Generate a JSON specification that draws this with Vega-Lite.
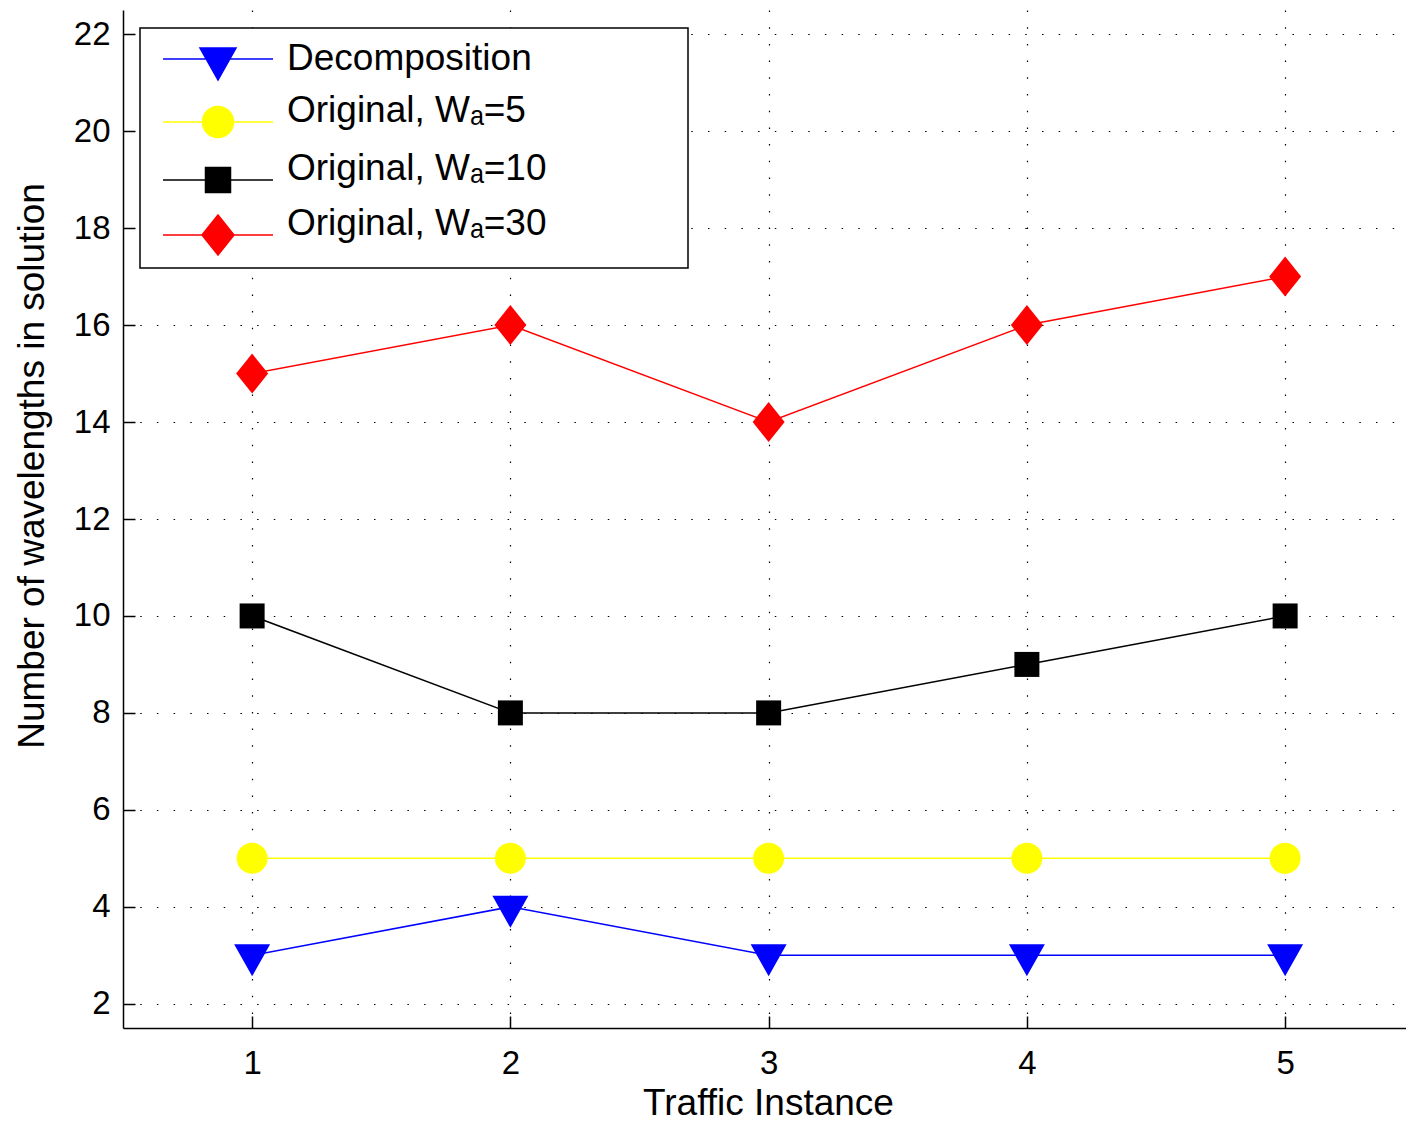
{
  "$schema": "https://vega.github.io/schema/vega-lite/v6.json",
  "width": 1283,
  "height": 1018,
  "autosize": {"type": "none"},
  "padding": {"left": 123, "top": 10, "right": 0, "bottom": 95},
  "background": "white",
  "config": {
    "view": {"stroke": null},
    "font": "Liberation Sans",
    "legend": {"strokeWidth": 1.5},
    "axis": {
      "domainColor": "black",
      "domainWidth": 1.5,
      "tickColor": "black",
      "tickWidth": 1.5,
      "tickSize": -12,
      "labelColor": "black",
      "labelFont": "Liberation Sans",
      "labelFontSize": 33,
      "titleColor": "black",
      "titleFont": "Liberation Sans",
      "titleFontSize": 37,
      "titleFontWeight": "normal",
      "grid": true,
      "gridColor": "black",
      "gridDash": [1.5, 15.2],
      "gridWidth": 1.2,
      "gridOpacity": 1
    }
  },
  "data": {
    "values": [
      {"instance": 1, "wavelengths": 3, "series": "Decomposition"},
      {"instance": 2, "wavelengths": 4, "series": "Decomposition"},
      {"instance": 3, "wavelengths": 3, "series": "Decomposition"},
      {"instance": 4, "wavelengths": 3, "series": "Decomposition"},
      {"instance": 5, "wavelengths": 3, "series": "Decomposition"},
      {"instance": 1, "wavelengths": 5, "series": "Original, Wₐ=5"},
      {"instance": 2, "wavelengths": 5, "series": "Original, Wₐ=5"},
      {"instance": 3, "wavelengths": 5, "series": "Original, Wₐ=5"},
      {"instance": 4, "wavelengths": 5, "series": "Original, Wₐ=5"},
      {"instance": 5, "wavelengths": 5, "series": "Original, Wₐ=5"},
      {"instance": 1, "wavelengths": 10, "series": "Original, Wₐ=10"},
      {"instance": 2, "wavelengths": 8, "series": "Original, Wₐ=10"},
      {"instance": 3, "wavelengths": 8, "series": "Original, Wₐ=10"},
      {"instance": 4, "wavelengths": 9, "series": "Original, Wₐ=10"},
      {"instance": 5, "wavelengths": 10, "series": "Original, Wₐ=10"},
      {"instance": 1, "wavelengths": 15, "series": "Original, Wₐ=30"},
      {"instance": 2, "wavelengths": 16, "series": "Original, Wₐ=30"},
      {"instance": 3, "wavelengths": 14, "series": "Original, Wₐ=30"},
      {"instance": 4, "wavelengths": 16, "series": "Original, Wₐ=30"},
      {"instance": 5, "wavelengths": 17, "series": "Original, Wₐ=30"}
    ]
  },
  "encoding": {
    "x": {
      "field": "instance",
      "type": "quantitative",
      "scale": {"domain": [0.5, 5.468], "nice": false, "zero": false},
      "axis": {
        "title": "Traffic Instance",
        "values": [1, 2, 3, 4, 5],
        "format": "d",
        "labelBaseline": "alphabetic",
        "labelPadding": 57.5,
        "titleX": 645,
        "titleY": 86,
        "titleBaseline": "alphabetic"
      }
    },
    "y": {
      "field": "wavelengths",
      "type": "quantitative",
      "scale": {"domain": [1.5, 22.5], "nice": false, "zero": false},
      "axis": {
        "title": "Number of wavelengths in solution",
        "values": [2, 4, 6, 8, 10, 12, 14, 16, 18, 20, 22],
        "format": "d",
        "labelPadding": 25,
        "titleX": -80,
        "titleY": 455.5,
        "titleAngle": -90,
        "titleAlign": "center",
        "titleBaseline": "alphabetic"
      }
    },
    "color": {
      "field": "series",
      "type": "nominal",
      "scale": {
        "domain": ["Decomposition", "Original, Wₐ=5", "Original, Wₐ=10", "Original, Wₐ=30"],
        "range": ["#0000ff", "#ffff00", "#000000", "#ff0000"]
      },
      "legend": {
        "title": null,
        "orient": "none",
        "legendX": 17,
        "legendY": 18,
        "strokeColor": "black",
        "fillColor": "white",
        "padding": 10,
        "rowPadding": 9,
        "labelFont": "Liberation Sans",
        "labelFontSize": 37,
        "labelColor": "black",
        "labelLimit": 1000,
        "labelBaseline": {"expr": "datum.value === 'Decomposition' ? 'middle' : 'alphabetic'"},
        "labelExpr": "datum.label + '            \u2009\u2060'",
        "symbolType": {"expr": "['M -2.75 0 L 2.75 0 M -0.9 -0.55 L 0.9 -0.55 L 0 1.05 Z', 'M -2.75 0 L 2.75 0 M 0.775 0 A 0.775 0.775 0 1 1 -0.775 0 A 0.775 0.775 0 1 1 0.775 0 Z', 'M -2.75 0 L 2.75 0 M -0.625 -0.625 L 0.625 -0.625 L 0.625 0.625 L -0.625 0.625 Z', 'M -2.75 0 L 2.75 0 M -0.8 0 L 0 -1 L 0.8 0 L 0 1 Z'][indexof(domain('color'), datum.value)]"},
        "symbolStrokeColor": {"expr": "scale('color', datum.value)"},
        "symbolSize": 1600,
        "symbolStrokeWidth": 1.5,
        "symbolOpacity": 1,
        "symbolOffset": 47,
        "labelOffset": 48
      }
    }
  },
  "layer": [
    {
      "mark": {"type": "line", "strokeWidth": 1.5, "clip": true}
    },
    {
      "mark": {"type": "point", "filled": true, "opacity": 1, "size": 1600, "clip": true},
      "encoding": {
        "shape": {
          "field": "series",
          "type": "nominal",
          "scale": {
            "domain": ["Original, Wₐ=5", "Decomposition", "Original, Wₐ=10", "Original, Wₐ=30"],
            "range": [
              "M 0.775 0 A 0.775 0.775 0 1 1 -0.775 0 A 0.775 0.775 0 1 1 0.775 0 Z",
              "M -0.9 -0.55 L 0.9 -0.55 L 0 1.05 Z",
              "M -0.625 -0.625 L 0.625 -0.625 L 0.625 0.625 L -0.625 0.625 Z",
              "M -0.8 0 L 0 -1 L 0.8 0 L 0 1 Z"
            ]
          },
          "legend": null
        }
      }
    }
  ]
}
